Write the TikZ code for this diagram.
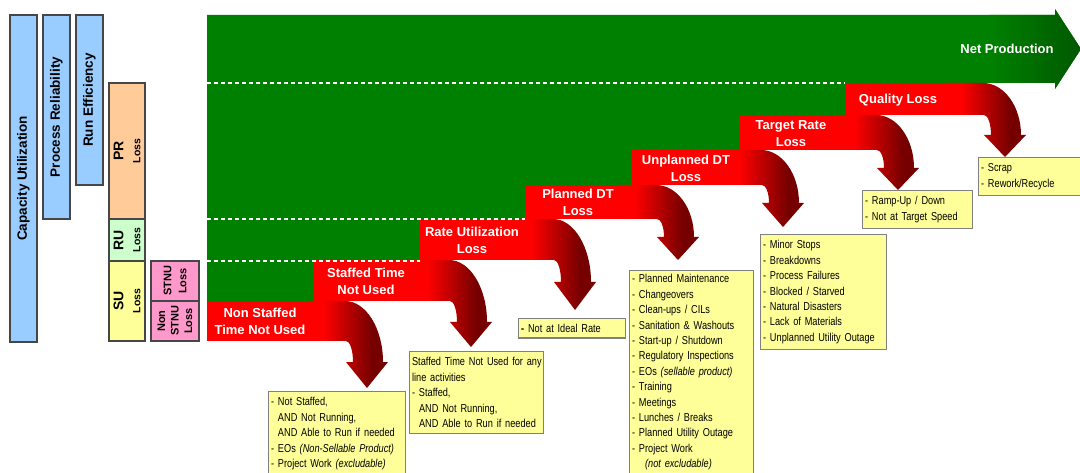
\documentclass[tikz,border=0pt]{standalone}
\usepackage{fontspec}
\setmainfont{Liberation Sans}
\newfontfamily\narrowfont[FakeStretch=0.8]{Liberation Sans}
\definecolor{cgreen}{RGB}{0,128,0}
\definecolor{cdkgreen}{RGB}{0,88,0}
\definecolor{cred}{RGB}{255,0,0}
\definecolor{cdkred}{RGB}{118,0,0}
\definecolor{cblue}{RGB}{153,204,255}
\definecolor{cpeach}{RGB}{255,204,153}
\definecolor{cmint}{RGB}{204,255,204}
\definecolor{cyel}{RGB}{255,255,153}
\definecolor{cpink}{RGB}{255,153,204}
\definecolor{cborder}{RGB}{70,70,70}
\definecolor{cyborder}{RGB}{128,128,128}
\pgfdeclarehorizontalshading{curvered}{100bp}{color(0bp)=(cred); color(25bp)=(cred); color(35bp)=(cred); color(65bp)=(cdkred); color(100bp)=(cdkred)}
% #1 step start, #2 top, #3 bottom, #4 tip x, #5 head base y, #6 tip y
\newcommand\lossstep[6]{%
  \fill[cred] (#1,#2) rectangle ({#4-58},#3);
  \shade[shading=curvered] ({#4-60},#2) -- ({#4-22},#2)
    .. controls ({#4-1},#2) and ({#4+16},{#5-0.55*(#5-#2)}) .. ({#4+16},#5)
    -- ({#4+21},#5) -- (#4,#6) -- ({#4-21},#5) -- ({#4-14},#5)
    .. controls ({#4-14},{#5-0.55*(#5-#3)}) and ({#4-17},#3) .. ({#4-21},#3)
    -- ({#4-60},#3) -- cycle;
}
\begin{document}
\begin{tikzpicture}[x=1pt,y=-1pt,
  sidebox/.style={draw=cborder, line width=1.2pt, rotate=90, align=center, inner sep=0pt, text=black},
  ybox/.style={draw=cyborder, fill=cyel, line width=1.2pt, anchor=north west, align=left, inner xsep=2.5pt, inner ysep=6pt, text=black, font=\narrowfont\fontsize{11.5}{15.4}\selectfont},
  bartext/.style={text=white, font=\bfseries\fontsize{13}{17}\selectfont, align=center, inner sep=0pt},
  dashline/.style={white, line width=1.2pt, dash pattern=on 4pt off 3pt}
]
\useasboundingbox (0,0) rectangle (1080,473);
\fill[white] (0,0) rectangle (1080,473);

% green net production area
\fill[cgreen] (207,15) -- (1055,15) -- (1055,9) -- (1081,49) -- (1055,89) -- (1055,83)
  -- (845,83) -- (845,115) -- (739,115) -- (739,150) -- (632,150) -- (632,185)
  -- (525,185) -- (525,219) -- (420,219) -- (420,260) -- (313,260) -- (313,301)
  -- (207,301) -- cycle;
\shade[left color=cgreen, right color=cdkgreen] (990,15) -- (1055,15) -- (1055,9) -- (1081,49)
  -- (1055,89) -- (1055,83) -- (990,83) -- cycle;

% loss steps
\lossstep{207}{301}{341}{367}{362}{388}
\lossstep{313}{260}{301}{471}{322}{347}
\lossstep{420}{219}{260}{575}{282}{310}
\lossstep{525}{185}{219}{678}{237}{260}
\lossstep{632}{150}{185}{783}{203}{227}
\lossstep{739}{115}{150}{898}{168}{190}
\lossstep{845}{83}{115}{1005}{135}{157}

% dashed separators
\draw[dashline] (207,83) -- (845,83);
\draw[dashline] (207,219) -- (525,219);
\draw[dashline] (207,261) -- (420,261);

% bar texts
\node[bartext] (np) at (1007,49) {Net Production};
\node[bartext] (ql) at (898,100) {Quality Loss};
\node[bartext] (tr) at (791,134) {Target Rate\\Loss};
\node[bartext] (ud) at (686,168) {Unplanned DT\\Loss};
\node[bartext] (pd) at (578,202) {Planned DT\\Loss};
\node[bartext] (ru) at (472,240) {Rate Utilization\\Loss};
\node[bartext] (st) at (366,281) {Staffed Time\\Not Used};
\node[bartext] (ns) at (260,321) {Non Staffed\\Time Not Used};

% left side boxes
\node[sidebox, fill=cblue, minimum width=327pt, minimum height=27pt, font=\bfseries\fontsize{13.5}{16}\selectfont] (cu) at (23.5,178.5) {Capacity Utilization};
\node[sidebox, fill=cblue, minimum width=204pt, minimum height=27pt, font=\bfseries\fontsize{13.5}{16}\selectfont] (prel) at (56.5,117) {Process Reliability};
\node[sidebox, fill=cblue, minimum width=170pt, minimum height=27pt, font=\bfseries\fontsize{13.5}{16}\selectfont] (reff) at (89.5,100) {Run Efficiency};
\node[sidebox, fill=cpeach, minimum width=136pt, minimum height=36pt, font=\bfseries\fontsize{10.5}{17}\selectfont] (prl) at (127,151) {{\fontsize{14}{17}\selectfont PR}\\Loss};
\node[sidebox, fill=cmint, minimum width=42pt, minimum height=36pt, font=\bfseries\fontsize{10.5}{17}\selectfont] (rul) at (127,240) {{\fontsize{14}{17}\selectfont RU}\\Loss};
\node[sidebox, fill=cyel, minimum width=80pt, minimum height=36pt, font=\bfseries\fontsize{10.5}{17}\selectfont] (sul) at (127,301) {{\fontsize{14}{17}\selectfont SU}\\Loss};
\node[sidebox, fill=cpink, minimum width=40pt, minimum height=48pt, font=\bfseries\fontsize{11}{15}\selectfont] (stnu) at (175,281) {STNU\\Loss};
\node[sidebox, fill=cpink, minimum width=40pt, minimum height=48pt, font=\bfseries\fontsize{11}{13.5}\selectfont] (nstnu) at (175,321) {Non\\STNU\\Loss};

% yellow detail boxes
\node[ybox, text width=132pt] (b1) at (268,391) {- Not Staffed,\\\phantom{- }AND Not Running,\\\phantom{- }AND Able to Run if needed\\- EOs \textit{(Non-Sellable Product)}\\- Project Work \textit{(excludable)}\\\mbox{}};
\node[ybox, text width=129pt] (b2) at (409,351) {\mbox{Staffed Time Not Used for any}\\line activities\\- Staffed,\\\hspace*{7pt}AND Not Running,\\\hspace*{7pt}AND Able to Run if needed};
\node[ybox, text width=102pt, inner ysep=5.5pt] (b3) at (518,318) {\textbf{-} Not at Ideal Rate};
\node[ybox, text width=119pt, inner ysep=4pt] (b4) at (629,270) {- Planned Maintenance\\- Changeovers\\- Clean-ups / CILs\\- Sanitation \& Washouts\\- Start-up / Shutdown\\- Regulatory Inspections\\- EOs \textit{(sellable product)}\\- Training\\- Meetings\\- Lunches / Breaks\\- Planned Utility Outage\\- Project Work\\\hspace*{13pt}\textit{(not excludable)}\\\mbox{}};
\node[ybox, text width=121pt] (b5) at (760,234) {- Minor Stops\\- Breakdowns\\- Process Failures\\- Blocked / Starved\\- Natural Disasters\\- Lack of Materials\\- Unplanned Utility Outage};
\node[ybox, text width=105pt] (b6) at (862,190) {- Ramp-Up / Down\\- Not at Target Speed};
\node[ybox, text width=110pt] (b7) at (978,157) {- Scrap\\- Rework/Recycle};
\end{tikzpicture}
\end{document}
